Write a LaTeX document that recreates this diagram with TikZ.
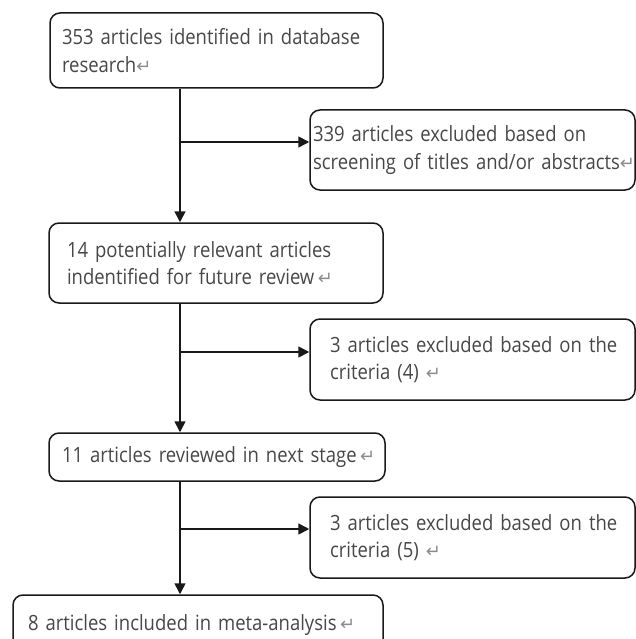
\documentclass[tikz,border=0pt]{standalone}
\usepackage{fontspec}
\setmainfont{Open Sans}[FakeStretch=0.88, WordSpace=0.75]
\newfontfamily\symfont{DejaVu Sans}
\usetikzlibrary{arrows.meta}
\newcommand\retmark{{\symfont\color{black!45}\fontsize{18}{18}\selectfont ↵}}
\newcommand\oneline[1]{\mbox{#1}}
\tikzset{
  box/.style={draw=black!90, line width=1.5pt, rounded corners=10pt, align=left,
    text=black!72, inner ysep=0pt, font=\fontsize{21}{27.5}\selectfont},
  arr/.style={draw=black!90, line width=1.6pt, -{Triangle[length=11pt,width=11pt]}}
}
\begin{document}
\begin{tikzpicture}[x=1pt,y=-1pt]
\useasboundingbox (0,0) rectangle (636,639);
\clip (0,0) rectangle (636,639);
\node[box, text width=309pt, inner xsep=12pt, minimum height=75pt] (b1) at (216.5,50.5)
  {\oneline{353 articles identified in database}\\\oneline{research\retmark}};
\node[box, text width=319pt, inner xsep=3pt, minimum height=80pt] (b2) at (472.5,150)
  {\oneline{339 articles excluded based on}\\\oneline{screening of titles and/or abstracts\retmark}};
\node[box, text width=298pt, inner xsep=18pt, minimum height=80pt] (b3) at (216,263)
  {\oneline{14 potentially relevant articles}\\\oneline{indentified for future review\,\retmark}};
\node[box, text width=285pt, inner xsep=20pt, minimum height=81pt] (b4) at (472.5,359.5)
  {\oneline{3 articles excluded based on the}\\\oneline{criteria (4) \retmark}};
\node[box, text width=310pt, inner xsep=13pt, minimum height=48pt] (b5) at (217,457)
  {\oneline{11 articles reviewed in next stage\,\retmark}};
\node[box, text width=285pt, inner xsep=20pt, minimum height=81pt] (b6) at (472.5,537.5)
  {\oneline{3 articles excluded based on the}\\\oneline{criteria (5) \retmark}};
\node[box, text width=340pt, inner xsep=15pt, minimum height=60pt] (b7) at (198,625)
  {\oneline{8 articles included in meta-analysis\,\retmark}};
\coordinate (sp) at (180,0);
\coordinate (j1) at (180,142);
\coordinate (j2) at (180,352);
\coordinate (j3) at (180,529);
\draw[arr] (sp |- b1.south) -- (sp |- b3.north);
\draw[arr] (sp |- b3.south) -- (sp |- b5.north);
\draw[arr] (sp |- b5.south) -- (sp |- b7.north);
\draw[arr] (j1) -- (j1 -| b2.west);
\draw[arr] (j2) -- (j2 -| b4.west);
\draw[arr] (j3) -- (j3 -| b6.west);
\end{tikzpicture}
\end{document}
